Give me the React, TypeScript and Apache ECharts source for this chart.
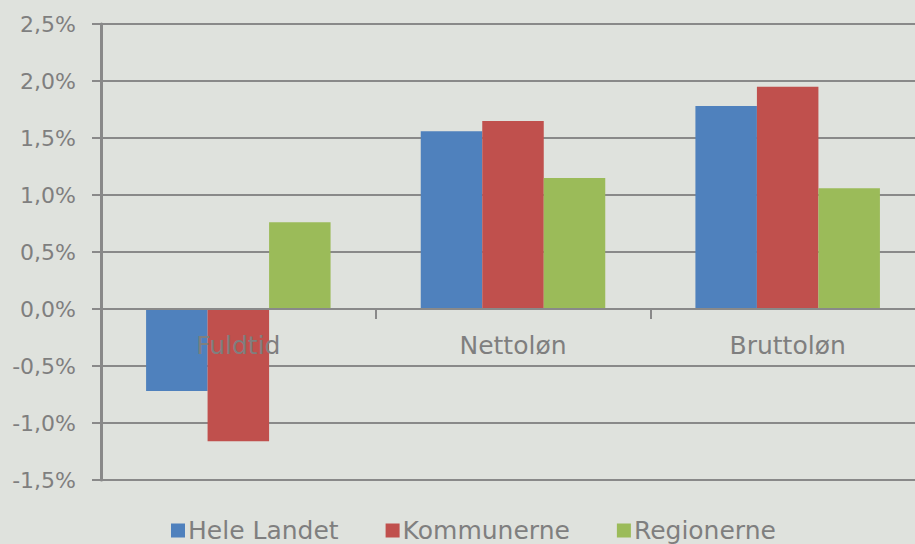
import React, { useEffect, useRef } from "react";
import * as echarts from "echarts";

const categories = ["Fuldtid", "Nettoløn", "Bruttoløn"];
const seriesNames = ["Hele Landet", "Kommunerne", "Regionerne"];
const heleLandet = [-0.72, 1.56, 1.78];
const kommunerne = [-1.16, 1.65, 1.95];
const regionerne = [0.76, 1.15, 1.06];
const seriesColors = ["#4f81bd", "#c0504d", "#9bbb59"];

const FONT = "'DejaVu Sans', sans-serif";
const TEXT = "#7f7f7f";
const LINE = "#898989";

function fmt(v: number): string {
  return v.toFixed(1).replace(".", ",") + "%";
}

export default function App() {
  const ref = useRef<HTMLDivElement>(null);
  useEffect(() => {
    if (!ref.current) return;
    const chart = echarts.init(ref.current, undefined, { renderer: "svg" });
    const values = [heleLandet, kommunerne, regionerne];
    chart.setOption({
      animation: false,
      backgroundColor: "#dfe2dd",
      textStyle: { fontFamily: FONT },
      grid: { left: 101, top: 24, height: 456, width: 824, containLabel: false },
      legend: {
        left: 171,
        top: 518,
        padding: 0,
        icon: "rect",
        itemWidth: 14,
        itemHeight: 14,
        itemGap: 47,
        textStyle: { color: TEXT, fontSize: 25, lineHeight: 24, fontFamily: FONT, padding: [0, 0, 0, -2] },
        data: seriesNames,
      },
      xAxis: {
        type: "category",
        data: categories,
        z: 5,
        offset: -171,
        axisLine: { onZero: false, lineStyle: { color: LINE, width: 2 } },
        axisTick: { show: true, length: 10, lineStyle: { color: LINE, width: 2 } },
        axisLabel: { color: TEXT, fontSize: 25, fontFamily: FONT, margin: 24 },
        splitLine: { show: false },
      },
      yAxis: {
        type: "value",
        min: -1.5,
        max: 2.5,
        interval: 0.5,
        axisLine: { show: true, lineStyle: { color: LINE, width: 3 } },
        axisTick: { show: true, length: 9, lineStyle: { color: LINE, width: 2 } },
        axisLabel: {
          color: TEXT,
          fontSize: 22,
          fontFamily: FONT,
          margin: 25,
          formatter: (v: number) => fmt(v),
        },
        splitLine: { show: true, lineStyle: { color: LINE, width: 2 } },
      },
      series: seriesNames.map((name, i) => ({
        name,
        type: "bar",
        data: values[i],
        barWidth: 61.5,
        barGap: "0%",
        itemStyle: { color: seriesColors[i] },
      })),
    });
    return () => chart.dispose();
  }, []);
  return (
    <div
      style={{
        position: "fixed",
        left: 0,
        top: 0,
        width: 915,
        height: 544,
        overflow: "hidden",
      }}
    >
      <div ref={ref} style={{ width: 940, height: 544 }} />
    </div>
  );
}
